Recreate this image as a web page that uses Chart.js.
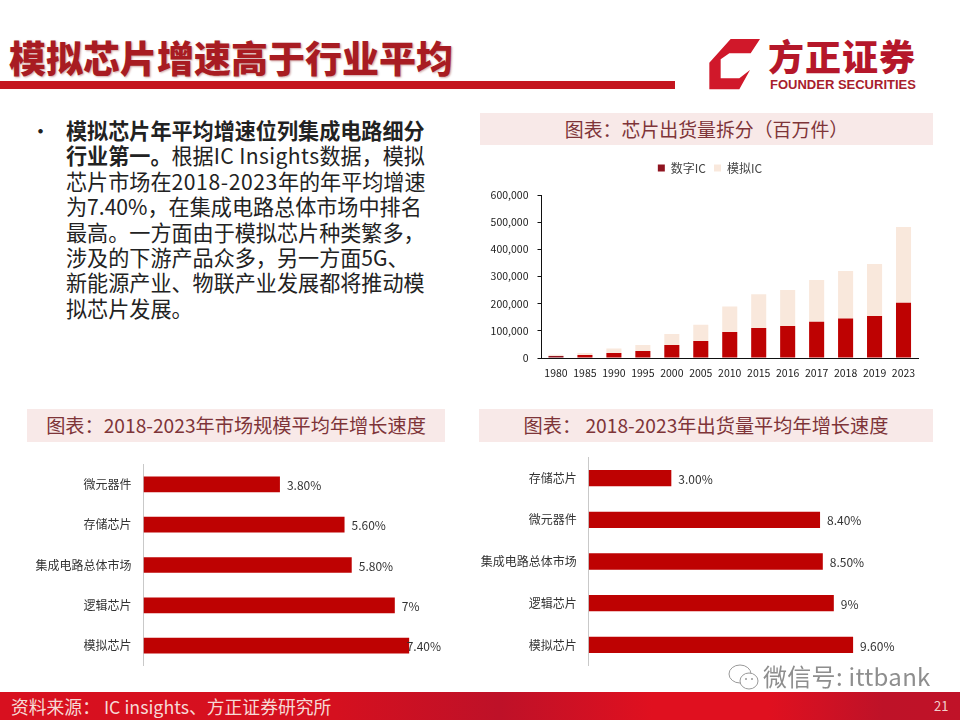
<!DOCTYPE html>
<html>
<head>
<meta charset="utf-8">
<script src="https://cdn.jsdelivr.net/npm/chart.js@4"></script>
<style>
html, body { margin: 0; padding: 0; background: #fff; }
body { position: relative; width: 960px; height: 720px; overflow: hidden; font-family: "Noto Sans CJK SC", sans-serif; }
.abs { position: absolute; white-space: nowrap; }
.title { left: 9px; top: 31px; font-size: 37px; line-height: 52px; font-weight: 900; color: #A81C22; text-shadow: 1px 1px 2px rgba(120,0,0,.35); }
.rule { left: 0; top: 81px; width: 675px; height: 8px; background: #C4161F; }
.logo-cn { left: 768px; top: 32px; font-size: 36px; line-height: 46px; font-weight: 900; color: #B5172A; letter-spacing: 1px; }
.logo-en { left: 770px; top: 77px; font-family: "Liberation Sans", sans-serif; font-size: 13px; line-height: 15px; font-weight: 700; color: #A8202C; }
.body { left: 66px; top: 118px; font-size: 21.1px; line-height: 25.4px; color: #222; }
.bullet { left: 30px; top: 118px; font-size: 21px; line-height: 25.4px; color: #222; }
.caption { background: #F8E9E8; color: #7E3438; text-align: center; font-size: 19.2px; }
.foot { left: 0; top: 692px; width: 960px; height: 28px; background: linear-gradient(90deg, #D8101F 0%, #D5101F 35%, #BE1128 52%, #E0101F 68%, #E0101F 80%, #BE1228 92%, #C01228 100%); }
.foot-t { left: 11px; top: 692px; font-size: 17.8px; line-height: 28px; color: #F6D9D5; }
.page { left: 934px; top: 692px; font-size: 13px; line-height: 27px; color: #F3D0CC; }
.mark { left: 763px; top: 658px; font-size: 24px; line-height: 36px; color: #8E8E8E; letter-spacing: .3px; }
canvas { position: absolute; }
</style>
</head>
<body>
<div class="abs title">模拟芯片增速高于行业平均</div>
<div class="abs rule"></div>
<svg class="abs" style="left:700px;top:30px" width="230" height="70" viewBox="0 0 690 210">
  <path d="M92 27 L180 27 L152 70 L88 70 L62 88 L62 145 L118 145 L150 120 L118 178 L28 178 L28 98 Z" fill="#D0182A"/>
</svg>
<div class="abs logo-cn">方正证券</div>
<div class="abs logo-en">FOUNDER SECURITIES</div>

<div class="abs bullet">•</div>
<div class="abs body"><b>模拟芯片年平均增速位列集成电路细分<br>行业第一。</b>根据<span style="letter-spacing:.4px">IC Insights</span>数据，模拟<br>芯片市场在<span style="letter-spacing:.6px">2018-2023</span>年的年平均增速<br>为7.40%，在集成电路总体市场中排名<br>最高。一方面由于模拟芯片种类繁多，<br>涉及的下游产品众多，另一方面5G、<br>新能源产业、物联产业发展都将推动模<br>拟芯片发展。</div>

<div class="abs caption" style="left:480px;top:113px;width:453px;height:32px;line-height:32px;font-size:18.9px">图表：芯片出货量拆分（百万件）</div>
<div class="abs caption" style="left:27px;top:409px;width:418px;height:33px;line-height:33px">图表：2018-2023年市场规模平均年增长速度</div>
<div class="abs caption" style="left:479px;top:409px;width:454px;height:33px;line-height:33px">图表： 2018-2023年出货量平均年增长速度</div>

<canvas id="shipChart" style="left:480px;top:143px;width:460px;height:242px"></canvas>
<canvas id="marketGrowth" style="left:20px;top:453px;width:421px;height:224px"></canvas>
<canvas id="shipGrowth" style="left:470px;top:446px;width:460px;height:231px"></canvas>

<div class="abs foot"></div>
<div class="abs foot-t">资料来源： IC insights、方正证券研究所</div>
<div class="abs page">21</div>
<svg class="abs" style="left:726px;top:662px" width="34" height="32" viewBox="0 0 34 32">
  <ellipse cx="14" cy="12" rx="11" ry="9" fill="#fff" stroke="#999" stroke-width="1"/>
  <ellipse cx="23" cy="19" rx="9" ry="8" fill="#fff" stroke="#999" stroke-width="1"/>
  <circle cx="20" cy="17" r="1" fill="#999"/><circle cx="26" cy="17" r="1" fill="#999"/>
</svg>
<div class="abs mark">微信号: ittbank</div>

<script>
const FONT = '"Noto Sans CJK SC", sans-serif';
const RED = '#BE0202';
const DARK = '#8F1420';
const PALE = '#F9E8DC';

const years = ['1980', '1985', '1990', '1995', '2000', '2005', '2010', '2015', '2016', '2017', '2018', '2019', '2023'];
const digitalIC = [7000, 11000, 18000, 26000, 48000, 63000, 96000, 110000, 118000, 133000, 145000, 155000, 203000];
const analogIC = [5000, 7000, 17000, 22000, 40000, 59000, 94000, 125000, 132000, 154000, 175000, 191000, 279000];

const marketNames = ['微元器件', '存储芯片', '集成电路总体市场', '逻辑芯片', '模拟芯片'];
const marketRates = [3.8, 5.6, 5.8, 7, 7.4];
const marketLabels = ['3.80%', '5.60%', '5.80%', '7%', '7.40%'];

const shipNames = ['存储芯片', '微元器件', '集成电路总体市场', '逻辑芯片', '模拟芯片'];
const shipRates = [3, 8.4, 8.5, 8.9, 9.6];
const shipLabels = ['3.00%', '8.40%', '8.50%', '9%', '9.60%'];

// value labels at the bar ends, pushed back if they would run off the canvas
const barLabels = {
    id: 'barLabels',
    afterDatasetsDraw(chart, args, opts) {
        const ctx = chart.ctx;
        ctx.save();
        ctx.font = '12px ' + FONT;
        ctx.fillStyle = '#333';
        ctx.textBaseline = 'middle';
        chart.getDatasetMeta(0).data.forEach((bar, i) => {
            const text = opts.texts[i];
            const x = Math.min(bar.x + 7, chart.width - ctx.measureText(text).width);
            ctx.fillText(text, x, bar.y + 1);
        });
        ctx.restore();
    }
};

// extra room under the legend, and nudge it right of the padded box
const legendPlace = {
    id: 'legendPlace',
    beforeInit(chart) {
        const fit = chart.legend.fit;
        chart.legend.fit = function () {
            fit.call(this);
            this.height += 11;
        };
    },
    afterLayout(chart) {
        chart.legend.left += 11;
        chart.legend.right += 11;
    }
};

function growthChart(id, names, rates, labels, max, axisWidth, rightPad) {
    return new Chart(document.getElementById(id), {
        type: 'bar',
        data: {
            labels: names,
            datasets: [{ data: rates, backgroundColor: RED, categoryPercentage: 1, barPercentage: 0.39 }]
        },
        plugins: [barLabels],
        options: {
            indexAxis: 'y',
            responsive: false,
            animation: false,
            layout: { padding: { top: 8, right: rightPad, bottom: 6, left: 0 } },
            plugins: { legend: { display: false }, tooltip: { enabled: false }, barLabels: { texts: labels } },
            scales: {
                x: { display: false, min: 0, max: max },
                y: {
                    afterFit(scale) { scale.width = axisWidth; },
                    grid: { display: false },
                    border: { color: '#C9C9C9' },
                    ticks: { color: '#333', padding: 4, font: { size: 12, family: FONT } }
                }
            }
        }
    });
}

function sizeCanvas(id) {
    const c = document.getElementById(id);
    c.width = parseInt(c.style.width);
    c.height = parseInt(c.style.height);
}
['shipChart', 'marketGrowth', 'shipGrowth'].forEach(sizeCanvas);

new Chart(document.getElementById('shipChart'), {
    type: 'bar',
    data: {
        labels: years,
        datasets: [
            {
                label: '数字IC',
                data: digitalIC,
                backgroundColor: c => c.dataIndex === 0 ? DARK : RED,
                categoryPercentage: 1,
                barPercentage: 0.52
            },
            { label: '模拟IC', data: analogIC, backgroundColor: PALE, categoryPercentage: 1, barPercentage: 0.52 }
        ]
    },
    plugins: [legendPlace],
    options: {
        responsive: false,
        animation: false,
        layout: { padding: { top: 11, right: 22, bottom: 0, left: 0 } },
        plugins: {
            tooltip: { enabled: false },
            legend: {
                position: 'top',
                labels: { boxWidth: 7, boxHeight: 7, padding: 8, color: '#444', font: { size: 12, family: FONT } }
            }
        },
        scales: {
            x: {
                stacked: true,
                afterFit(scale) { scale.height = 27; },
                grid: { display: false },
                border: { color: '#111' },
                ticks: { color: '#222', padding: 1, maxRotation: 0, autoSkip: false, font: { size: 10.5, family: FONT } }
            },
            y: {
                stacked: true,
                min: 0,
                max: 600000,
                afterFit(scale) { scale.width = 61.5; },
                grid: { drawOnChartArea: false, color: '#111', tickLength: 4 },
                border: { color: '#111' },
                ticks: {
                    stepSize: 100000,
                    padding: 9,
                    color: '#222',
                    font: { size: 10.5, family: FONT },
                    callback: v => v.toLocaleString('en-US')
                }
            }
        }
    }
});

growthChart('marketGrowth', marketNames, marketRates, marketLabels, 8, 123.5, 10.3);
growthChart('shipGrowth', shipNames, shipRates, shipLabels, 12, 118.7, 10.8);
</script>
</body>
</html>
